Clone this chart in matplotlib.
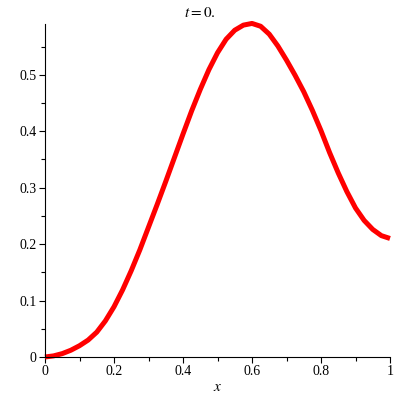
import matplotlib
matplotlib.use("Agg")
from matplotlib import pyplot as plt
from matplotlib.ticker import MultipleLocator, FuncFormatter

# values
x = [0.0, 0.025, 0.05, 0.075, 0.1, 0.125, 0.15, 0.175, 0.2, 0.225, 0.25, 0.275,
     0.3, 0.325, 0.35, 0.375, 0.4, 0.425, 0.45, 0.475, 0.5, 0.525, 0.55, 0.575,
     0.6, 0.625, 0.65, 0.675, 0.7, 0.725, 0.75, 0.775, 0.8, 0.825, 0.85, 0.875,
     0.9, 0.925, 0.95, 0.975, 1.0]
y = [0.0, 0.002, 0.006, 0.012, 0.020, 0.030, 0.044, 0.064, 0.089, 0.119, 0.153, 0.190,
     0.230, 0.270, 0.311, 0.353, 0.395, 0.436, 0.474, 0.509, 0.539, 0.563, 0.579, 0.588,
     0.591, 0.586, 0.572, 0.551, 0.526, 0.499, 0.470, 0.437, 0.401, 0.362, 0.326, 0.293,
     0.264, 0.242, 0.226, 0.215, 0.210]

plt.rcParams['font.family'] = ['Liberation Serif', 'DejaVu Serif']
plt.rcParams['mathtext.fontset'] = 'stix'

fig = plt.figure(figsize=(4., 4.), dpi=100)
ax = fig.add_axes([0.1125, 0.1075, 0.8625, 0.8325])
ax.plot(x, y, color="#ff0000", lw=3.6, solid_joinstyle="round", solid_capstyle="butt", clip_on=False)

ax.set_xlim(0, 1)
ax.set_ylim(0, 0.59)
ax.xaxis.set_major_locator(MultipleLocator(0.2))
ax.xaxis.set_minor_locator(MultipleLocator(0.1))
ax.yaxis.set_major_locator(MultipleLocator(0.1))
ax.yaxis.set_minor_locator(MultipleLocator(0.05))
fmt = FuncFormatter(lambda v, p: "%g" % round(v, 2))
ax.xaxis.set_major_formatter(fmt)
ax.yaxis.set_major_formatter(fmt)

for s in ["top", "right"]:
    ax.spines[s].set_visible(False)
ax.tick_params(which="major", direction="out", length=4, width=0.8, labelsize=10, pad=2)
ax.tick_params(which="minor", direction="out", length=3, width=0.8)

ax.set_xlabel("$x$", fontsize=11, labelpad=2)
fig.text(0.5, 0.968, "$t = 0.$", ha="center", va="center", fontsize=11)

fig.savefig("out.png", dpi=100)
